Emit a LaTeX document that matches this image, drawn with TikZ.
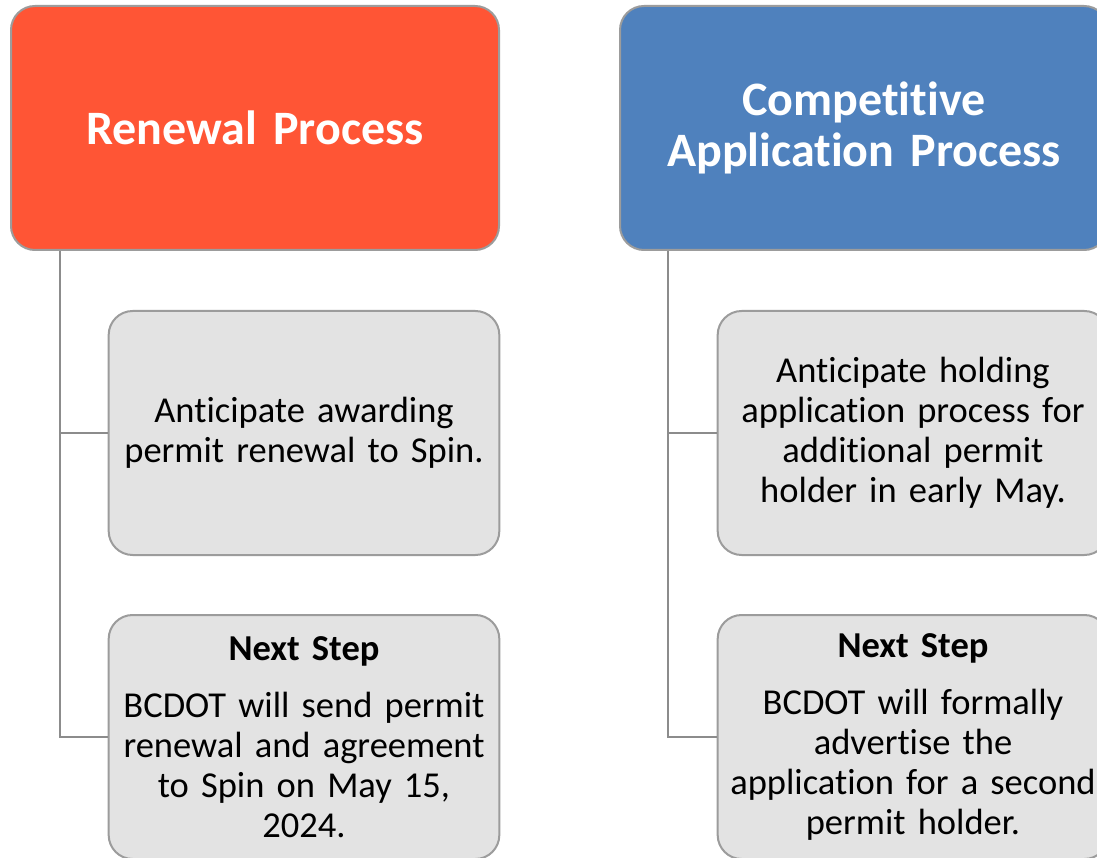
\documentclass[tikz,border=0pt]{standalone}
\usepackage{fontspec}
\setmainfont[Ligatures=NoCommon, WordSpace=0.85]{Carlito}
\usetikzlibrary{calc}
\definecolor{redhead}{HTML}{FF5535}
\definecolor{bluehead}{HTML}{4F81BD}
\definecolor{boxgray}{HTML}{E3E3E3}
\definecolor{edgegray}{HTML}{9C9C9C}
\definecolor{linegray}{HTML}{8C8C8C}
\tikzset{
  x=1pt, y=1pt,
  headbox/.style={draw=edgegray, line width=2pt, rounded corners=24pt,
    minimum width=488pt, minimum height=244pt, text width=476pt, align=center,
    text=white, font=\fontsize{48}{51}\selectfont\bfseries},
  itembox/.style={draw=edgegray, line width=2pt, rounded corners=24pt, fill=boxgray,
    minimum width=390pt, minimum height=244pt, text width=384pt, align=center,
    text=black, font=\fontsize{36.5}{40}\selectfont},
  conn/.style={draw=linegray, line width=2pt}
}
\begin{document}
\begin{tikzpicture}
\clip (0,0) rectangle (1097,-858);
\fill[white] (0,0) rectangle (1097,-858);
% left column
\node[headbox, fill=redhead] (rh) at (255,-128) {Renewal Process};
\node[itembox] (l1) at (304,-433) {Anticipate awarding\\permit renewal to Spin.};
\node[itembox] (l2) at (304,-737) {\textbf{Next Step}\\[17pt]BCDOT will send permit\\renewal and agreement\\to Spin on May 15,\\2024.};
% right column
\node[headbox, fill=bluehead] (bh) at (864,-128) {Competitive\\Application Process};
\node[itembox] (r1) at (913,-433) {Anticipate holding\\application process for\\additional permit\\holder in early May.};
\node[itembox] (r2) at (913,-737) {\textbf{Next Step}\\[17pt]BCDOT will formally\\advertise the\\application for a second\\permit holder.};
% connectors
\draw[conn] ($(rh.south west)+(50,0)$) |- (l1.west);
\draw[conn] ($(rh.south west)+(50,0)$) |- (l2.west);
\draw[conn] ($(bh.south west)+(49,0)$) |- (r1.west);
\draw[conn] ($(bh.south west)+(49,0)$) |- (r2.west);
\end{tikzpicture}
\end{document}
